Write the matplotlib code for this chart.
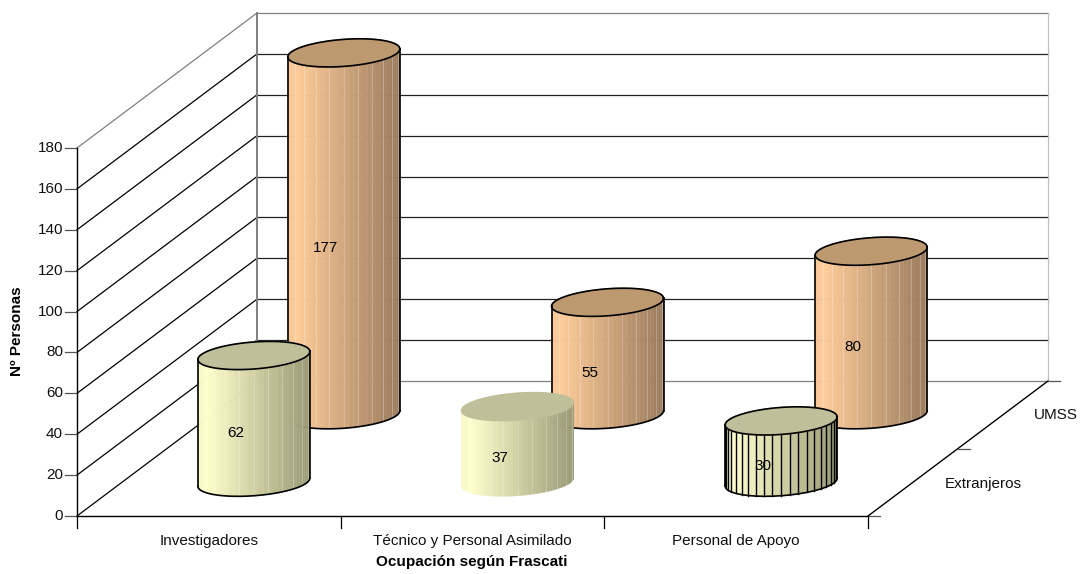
import numpy as np
import matplotlib
matplotlib.use('Agg')
import matplotlib.pyplot as plt

plt.rcParams['font.family'] = ['Liberation Sans', 'DejaVu Sans']

categories = ['Investigadores', 'Técnico y Personal Asimilado', 'Personal de Apoyo']
series_names = ['Extranjeros', 'UMSS']
umss = [177, 55, 80]
extranjeros = [62, 37, 30]
y_ticks = [0, 20, 40, 60, 80, 100, 120, 140, 160, 180]

# pixel frame of the fake 3d box
X0, X1 = 77, 868
Y0, Y180 = 516, 148
DX, DY = 180, -135
PX_PER_UNIT = (Y0 - Y180) / 180
RX, TILT, RY = 56, 4, 13.5
FS = 11


def project(cat, depth, value):
    """cat in category units, depth 0-1 (front to back), value on the y scale"""
    x = X0 + cat * (X1 - X0) / len(categories) + depth * DX
    y = Y0 - value * PX_PER_UNIT + depth * DY
    return x, y


def shade(light, dark, f):
    return tuple(a + (b - a) * f for a, b in zip(light, dark))


def draw_cylinder(ax, cat, depth, value, light, dark, top, outline=True, ribs=False, z=5):
    cx, cy0 = project(cat + 0.5, depth, 0)
    _, cy1 = project(cat + 0.5, depth, value)
    n = 20 if ribs else 36
    edges = np.linspace(np.pi, 2 * np.pi, n + 1)
    xs = cx + RX * np.cos(edges)
    bottom = cy0 - TILT * np.cos(edges) - RY * np.sin(edges)
    upper = cy1 - TILT * np.cos(edges) - RY * np.sin(edges)
    for i in range(n):
        # brightest a little in from the left edge, darkening to the right
        x = (xs[i] + xs[i + 1] - 2 * (cx - RX)) / (4 * RX)
        f = abs(x - 0.08) / 0.92
        col = shade(light, dark, f)
        ax.fill([xs[i], xs[i + 1], xs[i + 1], xs[i]],
                [upper[i], upper[i + 1], bottom[i + 1], bottom[i]],
                color=col, lw=0.3, zorder=z)
        if ribs:
            ax.plot([xs[i], xs[i]], [upper[i], bottom[i]], color='black', lw=1.0, zorder=z + 0.1)
        elif i > 3 and i % 3 == 0:
            # thin pale seams between the shading bands
            ax.plot([xs[i], xs[i]], [upper[i], bottom[i]], color='white', alpha=0.25, lw=0.7, zorder=z + 0.1)
    t = np.linspace(0, 2 * np.pi, 120)
    tx = cx + RX * np.cos(t)
    ty = cy1 - TILT * np.cos(t) - RY * np.sin(t)
    ax.fill(tx, ty, color=top, zorder=z + 0.2)
    if outline:
        ax.plot(tx, ty, color='black', lw=1.2, zorder=z + 0.3)
        ax.plot(xs, bottom, color='black', lw=1.2, zorder=z + 0.3)
        for k in (0, -1):
            ax.plot([xs[k], xs[k]], [upper[k], bottom[k]], color='black', lw=1.2, zorder=z + 0.3)


fig = plt.figure(figsize=(10.87, 5.74), dpi=100)
ax = fig.add_axes([0, 0, 1, 1])
ax.set_xlim(0, 1087)
ax.set_ylim(574, 0)
ax.axis('off')

# walls and gridlines
n_cat = len(categories)
for v in y_ticks:
    xa, ya = project(0, 0, v)
    xb, yb = project(0, 1, v)
    xc, yc = project(n_cat, 1, v)
    col = '#808080' if v == 180 else 'black'
    ax.plot([xa, xb], [ya, yb], color=col, lw=0.9, zorder=1)
    ax.plot([xb, xc], [yb, yc], color='#808080' if v in (0, 180) else '#222222', lw=0.9, zorder=1)
    ax.plot([xa - 12, xa], [ya, ya], color='#555555', lw=0.9, zorder=1)
    ax.text(xa - 14, ya, str(v), ha='right', va='center', fontsize=FS, color='#111111')
xb, yb = project(0, 1, 0)
xt, yt = project(0, 1, 180)
ax.plot([xb, xt], [yb, yt], color='#808080', lw=1.4, zorder=1)
xb, yb = project(n_cat, 1, 0)
xt, yt = project(n_cat, 1, 180)
ax.plot([xb, xt], [yb, yt], color='#c0c0c0', lw=0.9, zorder=1)

# front frame
xa, ya = project(0, 0, 0)
xb, yb = project(0, 0, 180)
ax.plot([xa, xb], [ya, yb], color='black', lw=1, zorder=2)
xc, yc = project(n_cat, 0, 0)
ax.plot([xa, xc], [ya, yc], color='black', lw=1, zorder=2)
xd, yd = project(n_cat, 1, 0)
ax.plot([xc, xd], [yc, yd], color='black', lw=1, zorder=2)
ax.plot([xd, xd + 12], [yd, yd], color='#555555', lw=0.9, zorder=2)
ax.plot([xc, xc + 12], [yc, yc], color='#555555', lw=0.9, zorder=2)
xm, ym = project(n_cat, 0.5, 0)
ax.plot([xm, xm + 12], [ym, ym], color='#555555', lw=0.9, zorder=2)

for i in range(n_cat + 1):
    x, y = project(i, 0, 0)
    ax.plot([x, x], [y, y + 12], color='black', lw=0.9, zorder=2)
for i, name in enumerate(categories):
    x, y = project(i + 0.5, 0, 0)
    ax.text(x, y + 25, name, ha='center', va='center', fontsize=FS, color='#111111')
ax.text(472, 562, 'Ocupación según Frascati', ha='center', va='center', fontsize=FS, fontweight='bold')
ax.text(17, 331, 'Nº Personas', ha='center', va='center', rotation=90, fontsize=FS, fontweight='bold')
ax.text(983, 484, series_names[0], ha='center', va='center', fontsize=FS, color='#111111')
ax.text(1056, 415, series_names[1], ha='center', va='center', fontsize=FS, color='#111111')

# back row, then front row
for i, v in enumerate(umss):
    draw_cylinder(ax, i, 0.75, v, (1, 0.80, 0.60), (0.60, 0.48, 0.36), '#bd9970', z=5)
    x, y = project(i + 0.5, 0.75, v / 2)
    ax.text(x - 18, y + 14, str(v), ha='center', va='center', fontsize=FS, zorder=8)
for i, v in enumerate(extranjeros):
    draw_cylinder(ax, i, 0.25, v, (1, 1, 0.80), (0.60, 0.60, 0.46), '#bfbf99',
                  outline=(i != 1), ribs=(i == 2), z=10)
    x, y = project(i + 0.5, 0.25, v / 2)
    ax.text(x - 18, y + 14, str(v), ha='center', va='center', fontsize=FS, zorder=14)

fig.savefig('out.png', dpi=100)
